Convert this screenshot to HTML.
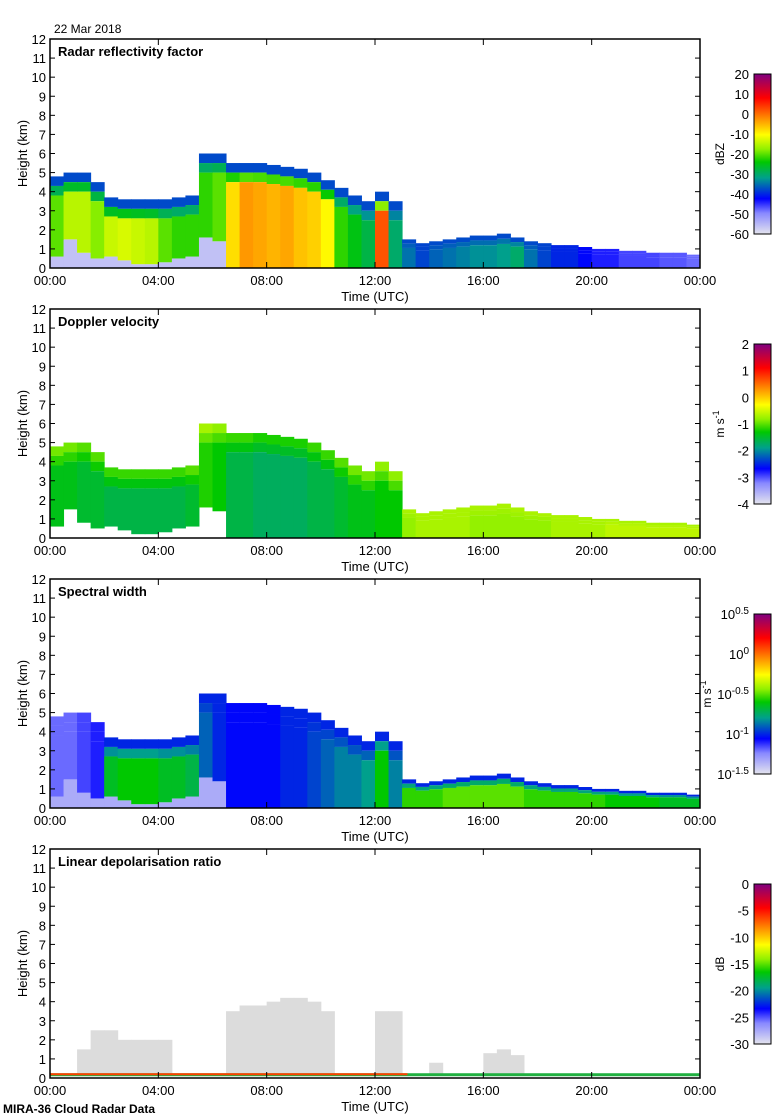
<!DOCTYPE html>
<html><head><meta charset="utf-8"><style>
body{margin:0;background:#fff}
svg{display:block;font-family:"Liberation Sans",sans-serif}
</style></head><body>
<svg id="chart" width="780" height="1120" xmlns="http://www.w3.org/2000/svg">
<defs>
<linearGradient id="cmap" x1="0" y1="1" x2="0" y2="0">
<stop offset="0" stop-color="#e4e4ee"/><stop offset="0.13" stop-color="#8888ff"/><stop offset="0.22" stop-color="#0000ff"/><stop offset="0.35" stop-color="#00a08c"/><stop offset="0.45" stop-color="#00c800"/><stop offset="0.53" stop-color="#90f000"/><stop offset="0.62" stop-color="#ffff00"/><stop offset="0.72" stop-color="#ff9000"/><stop offset="0.85" stop-color="#ff0000"/><stop offset="1" stop-color="#800080"/>
</linearGradient>
</defs>
<text x="54" y="33" font-size="12">22 Mar 2018</text>
<text x="3" y="1113" font-size="12" font-weight="bold">MIRA-36 Cloud Radar Data</text>
</svg>
<script>
// half-hourly bins 00:00..23:30
const times = [0,0.5,1,1.5,2,2.5,3,3.5,4,4.5,5,5.5,6,6.5,7,7.5,8,8.5,9,9.5,10,10.5,11,11.5,12,12.5,13,13.5,14,14.5,15,15.5,16,16.5,17,17.5,18,18.5,19,19.5,20,20.5,21,21.5,22,22.5,23,23.5];
const cloudTop = [4.8,5.0,5.0,4.5,3.7,3.6,3.6,3.6,3.6,3.7,3.8,6.0,6.0,5.5,5.5,5.5,5.4,5.3,5.2,5.0,4.6,4.2,3.8,3.5,4.0,3.5,1.5,1.3,1.4,1.5,1.6,1.7,1.7,1.8,1.6,1.4,1.3,1.2,1.2,1.1,1.0,1.0,0.9,0.9,0.8,0.8,0.8,0.7];
const cloudBase = [0.6,1.5,0.8,0.5,0.6,0.4,0.2,0.2,0.3,0.5,0.6,1.6,1.4,0.0,0.0,0.0,0.0,0.0,0.0,0.0,0.0,0.0,0.0,0.0,0.0,0.0,0.0,0.0,0.0,0.0,0.0,0.0,0.0,0.0,0.0,0.0,0.0,0.0,0.0,0.0,0.0,0.0,0.0,0.0,0.0,0.0,0.0,0.0];
const reflectivity = [-20,-15,-15,-18,-14,-13,-14,-15,-20,-22,-22,-22,-20,-8,-3,-4,-5,-4,-6,-7,-10,-22,-25,-28,2,-30,-35,-38,-36,-35,-34,-33,-33,-32,-30,-35,-38,-40,-40,-42,-44,-44,-46,-46,-46,-47,-47,-48];
const velocity = [-1.4,-1.4,-1.5,-1.5,-1.6,-1.6,-1.6,-1.6,-1.6,-1.6,-1.5,-1.2,-1.3,-1.6,-1.6,-1.7,-1.7,-1.7,-1.7,-1.6,-1.6,-1.5,-1.4,-1.4,-1.3,-1.3,-0.8,-0.7,-0.7,-0.7,-0.7,-0.8,-0.8,-0.8,-0.8,-0.8,-0.8,-0.7,-0.7,-0.7,-0.7,-0.6,-0.6,-0.6,-0.6,-0.6,-0.6,-0.6];
const specWidth = [-1.2,-1.2,-1.15,-1.1,-0.65,-0.6,-0.6,-0.6,-0.65,-0.65,-0.7,-0.9,-1.0,-1.05,-1.05,-1.05,-1.05,-1.0,-1.0,-0.95,-0.9,-0.85,-0.85,-0.8,-0.6,-0.85,-0.55,-0.55,-0.55,-0.5,-0.5,-0.5,-0.5,-0.5,-0.5,-0.55,-0.55,-0.55,-0.55,-0.55,-0.55,-0.6,-0.6,-0.6,-0.6,-0.65,-0.65,-0.65];
const ldrGrayTop = [0,0,1.5,2.5,2.5,2.0,2.0,2.0,2.0,0,0,0,0,3.5,3.8,3.8,4.0,4.2,4.2,4.0,3.5,0,0,0,3.5,3.5,0,0,0.8,0,0,0,1.3,1.5,1.2,0,0,0,0,0,0,0,0,0,0,0,0,0];
const yTicks = [0,1,2,3,4,5,6,7,8,9,10,11,12];
const xTickHours = [0,4,8,12,16,20,24];
const xTickLabels = ["00:00","04:00","08:00","12:00","16:00","20:00","00:00"];
const cb1 = ["20","10","0","-10","-20","-30","-40","-50","-60"];
const cb2 = ["2","1","0","-1","-2","-3","-4"];
const cb3 = ["0.5","0","-0.5","-1","-1.5"];
const cb4 = ["0","-5","-10","-15","-20","-25","-30"];

const NS="http://www.w3.org/2000/svg";
const svg=document.getElementById('chart');
const X0=50,X1=700,H=229;
const stops=[[0,[228,228,238]],[0.13,[136,136,255]],[0.22,[0,0,255]],[0.35,[0,160,140]],[0.45,[0,200,0]],[0.53,[144,240,0]],[0.62,[255,255,0]],[0.72,[255,144,0]],[0.85,[255,0,0]],[1,[128,0,128]]];
function cmap(f){f=Math.max(0,Math.min(1,f));for(let i=1;i<stops.length;i++){if(f<=stops[i][0]){const a=stops[i-1],b=stops[i],t=(f-a[0])/(b[0]-a[0]);return 'rgb('+a[1].map((v,k)=>Math.round(v+(b[1][k]-v)*t)).join(',')+')';}}return 'rgb(128,0,128)';}
function el(tag,attrs,parent){const e=document.createElementNS(NS,tag);for(const k in attrs)e.setAttribute(k,attrs[k]);(parent||svg).appendChild(e);return e;}
function xs(t){return X0+t/24*(X1-X0);}

function panel(idx,title,top,opts){
  const bot=top+H;
  const ys=h=>bot-h/12*H;
  const g=el('g',{});
  
  
  const binW=(X1-X0)/48+0.5;
  if(opts.vals){
    times.forEach((t,i)=>{
      const topH=cloudTop[i],base=cloudBase[i];
      const f=opts.norm(opts.vals[i]);
      const edge=Math.min(0.5,topH*0.15);
      if(base>0 && opts.lowF>=0){const r=el('rect',{x:xs(t),y:ys(base),width:binW,height:ys(0)-ys(base),fill:cmap(opts.lowF)},g);}
      const r1=el('rect',{x:xs(t),y:ys(topH),width:binW,height:ys(topH-edge)-ys(topH),fill:cmap(opts.edgeF(f))},g);
      
      
      const mid=topH-edge;
      const r2=el('rect',{x:xs(t),y:ys(mid),width:binW,height:ys(mid-edge)-ys(mid),fill:cmap((f+opts.edgeF(f))/2)},g);
      
      
      const r3=el('rect',{x:xs(t),y:ys(mid-edge),width:binW,height:Math.max(0,ys(base)-ys(mid-edge)),fill:cmap(f)},g);
      
      
    });
  }
  if(opts.ldr){
    times.forEach((t,i)=>{
      if(ldrGrayTop[i]>0){const r=el('rect',{x:xs(t),y:ys(ldrGrayTop[i]),width:binW,height:ys(0.2)-ys(ldrGrayTop[i]),fill:'#dcdcdc'},g);}
    });
    const l=el('rect',{x:X0,y:ys(0.25),width:X1-X0,height:3,fill:'#20b040'},g);
    
    
    const l2=el('rect',{x:X0,y:ys(0.25),width:(X1-X0)*0.55,height:2,fill:'#ff4000'},g);
    
    
  }
  const fr=el('rect',{x:X0,y:top,width:X1-X0,height:H,fill:'none',stroke:'#000','stroke-width':1.5});
  
  
  yTicks.forEach(v=>{
    el('line',{x1:X0,x2:X0+5,y1:ys(v),y2:ys(v),stroke:'#000'});
    el('line',{x1:X1,x2:X1-5,y1:ys(v),y2:ys(v),stroke:'#000'});
    const tx=el('text',{x:X0-4,y:ys(v)+5,'font-size':13,'text-anchor':'end'});
    tx.textContent=v;
    
    
  });
  xTickHours.forEach((h,i)=>{
    el('line',{x1:xs(h),x2:xs(h),y1:bot,y2:bot-6,stroke:'#000'});
    el('line',{x1:xs(h),x2:xs(h),y1:top,y2:top+6,stroke:'#000'});
    const tx=el('text',{x:xs(h),y:bot+17,'font-size':13,'text-anchor':'middle'});
    tx.textContent=xTickLabels[i];
    
    
  });
  const xt=el('text',{x:375,y:bot+33,'font-size':13,'text-anchor':'middle'});
  xt.textContent='Time (UTC)';
  
  
  const yt=el('text',{x:0,y:0,'font-size':13,'text-anchor':'middle',transform:'translate(27,'+(top+H/2)+') rotate(-90)'});
  yt.textContent='Height (km)';
  
  
  const tt=el('text',{x:58,y:top+17,'font-size':13,'font-weight':'bold'});
  tt.textContent=title;
  
  
  const cbTop=top+35,cbH=160;
  const cb=el('rect',{x:754,y:cbTop,width:17,height:cbH,fill:'url(#cmap)',stroke:'#000','stroke-width':1});
  
  
  const labs=opts.cbLabels,n=labs.length;
  labs.forEach((s,i)=>{
    const y=cbTop+i*cbH/(n-1);
    const tx=el('text',{x:749,y:y+5,'font-size':13,'text-anchor':'end'});
    if(opts.pow){tx.textContent='10';const sp=el('tspan',{dy:-5,'font-size':10},tx);sp.textContent=s;}
    else tx.textContent=s;
    
    
  });
  const ux=opts.pow?711:724;
  const ut=el('text',{x:0,y:0,'font-size':12,'text-anchor':'middle',transform:'translate('+ux+','+(cbTop+cbH/2)+') rotate(-90)'});
  if(opts.unitSup){ut.textContent='m s';const sp=el('tspan',{dy:-5,'font-size':9},ut);sp.textContent='-1';}
  else ut.textContent=opts.unit;
  
  
}
panel(1,'Radar reflectivity factor',39,{vals:reflectivity,norm:v=>(v+60)/80,edgeF:f=>Math.min(f,0.28),lowF:0.05,cbLabels:cb1,unit:'dBZ'});
panel(2,'Doppler velocity',309,{vals:velocity,norm:v=>(v+4)/6,edgeF:f=>Math.min(0.55,f+0.08),lowF:-1,cbLabels:cb2,unitSup:true});
panel(3,'Spectral width',579,{vals:specWidth,norm:v=>(v+1.5)/2,edgeF:f=>Math.min(f,0.25),lowF:0.08,cbLabels:cb3,pow:true,unitSup:true});
panel(4,'Linear depolarisation ratio',849,{ldr:true,cbLabels:cb4,unit:'dB'});
</script>
</body></html>
